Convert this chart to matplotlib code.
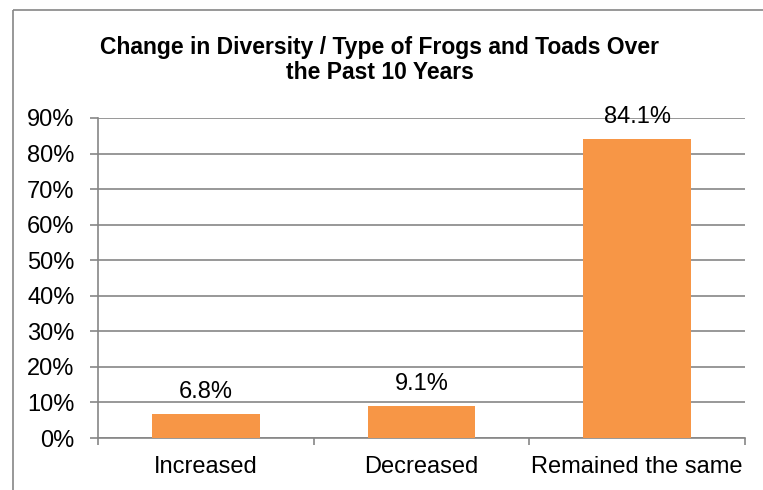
import matplotlib
matplotlib.use("Agg")
import matplotlib.pyplot as plt
from matplotlib.lines import Line2D

plt.rcParams['font.family'] = ['Liberation Sans', 'DejaVu Sans']

categories = ["Increased", "Decreased", "Remained the same"]
values = [6.8, 9.1, 84.1]
yticks = [0, 10, 20, 30, 40, 50, 60, 70, 80, 90]
title = "Change in Diversity / Type of Frogs and Toads Over\nthe Past 10 Years"

W, H = 763, 490
fig = plt.figure(figsize=(W/100, H/100), dpi=100)
ax = fig.add_axes([98/W, (H-438)/H, (745-98)/W, (438-118)/H])

grid_c = "#868686"
bar_c = "#F79646"
fs = 17

x = list(range(len(categories)))
ax.bar(x, values, width=0.5, color=bar_c, zorder=3)
for xi, v in zip(x, values):
    ax.text(xi, v + 6.2, f"{v:.1f}%", ha="center", va="center", fontsize=fs, zorder=4)

ax.set_xlim(-0.5, len(categories) - 0.5)
ax.set_ylim(0, 90)
ax.set_yticks(yticks)
ax.set_yticklabels([f"{t}%" for t in yticks], fontsize=fs)
ax.yaxis.grid(True, color=grid_c, linewidth=1.2, zorder=0)
ax.set_axisbelow(True)

ax.set_xticks([i - 0.5 for i in range(len(categories) + 1)])
ax.set_xticklabels([])
ax.set_xticks(x, minor=True)
ax.set_xticklabels(categories, minor=True, fontsize=fs)
ax.tick_params(axis='x', which='minor', length=0, pad=13)
ax.tick_params(axis='x', which='major', length=5, color=grid_c, width=1.2)
ax.tick_params(axis='y', length=6, color=grid_c, width=1.2, pad=11)

for s in ["top", "right"]:
    ax.spines[s].set_visible(False)
for s in ["left", "bottom"]:
    ax.spines[s].set_color(grid_c)
    ax.spines[s].set_linewidth(1.2)

fig.text(380/W, 1 - 60/H, title, ha="center", va="center", fontsize=16.5,
         fontweight="bold", linespacing=1.15)

bx, by = 12.5/W, 1 - 10.5/H
fig.add_artist(Line2D([bx, bx], [0, by], transform=fig.transFigure, color=grid_c,
                      linewidth=1.2, solid_capstyle="butt"))
fig.add_artist(Line2D([bx, 1.02], [by, by], transform=fig.transFigure, color=grid_c,
                      linewidth=1.2, solid_capstyle="butt"))

fig.savefig("out.png", dpi=100)
